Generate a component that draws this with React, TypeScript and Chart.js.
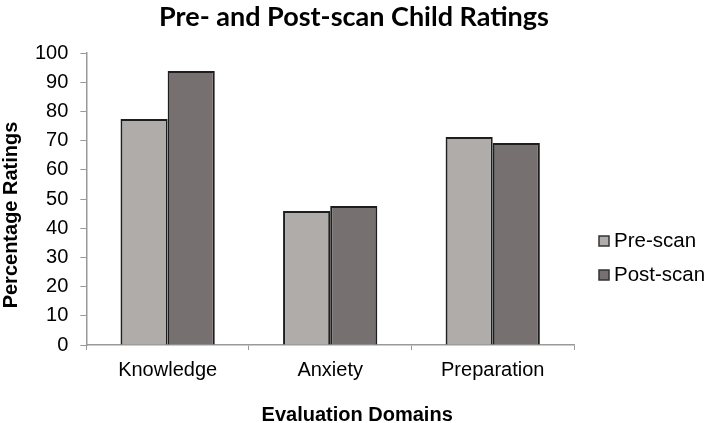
import React, { useEffect, useRef } from "react";
import { Chart, registerables } from "chart.js";

Chart.register(...registerables);

const categories = ["Knowledge", "Anxiety", "Preparation"];
const preScan = [77.4, 45.9, 71.2];
const postScan = [93.8, 47.6, 69.2];
const seriesLabels = ["Pre-scan", "Post-scan"];
const yTitle = "Percentage Ratings";
const xTitle = "Evaluation Domains";
const chartTitle = "Pre- and Post-scan Child Ratings";

const textPlugin = {
  id: "extraText",
  afterDraw(chart: any) {
    const ctx = chart.ctx;
    const a = chart.chartArea;
    ctx.save();
    ctx.fillStyle = "#000";
    // chart title
    ctx.font = "bold 27px 'Lato'";
    ctx.textAlign = "center";
    ctx.textBaseline = "middle";
    ctx.fillText(chartTitle, chart.width / 2, 17);
    // x axis title
    ctx.font = "bold 20px 'Liberation Sans'";
    ctx.textAlign = "center";
    ctx.textBaseline = "alphabetic";
    ctx.fillText(xTitle, (a.left + a.right) / 2 + 27, 421);
    // y axis title
    ctx.save();
    ctx.translate(17, (a.top + a.bottom) / 2 + 16);
    ctx.rotate(-Math.PI / 2);
    ctx.textBaseline = "alphabetic";
    ctx.fillText(yTitle, 0, 0);
    ctx.restore();
    // legend
    const ds = chart.data.datasets;
    ctx.font = "20.5px 'Liberation Sans'";
    ctx.textAlign = "left";
    ctx.textBaseline = "middle";
    ds.forEach((d: any, i: number) => {
      const cy = 241 + i * 34;
      const bx = a.right + 25;
      ctx.fillStyle = d.backgroundColor;
      ctx.fillRect(bx, cy - 5, 10, 10);
      ctx.strokeStyle = "#333";
      ctx.lineWidth = 1.5;
      ctx.strokeRect(bx, cy - 5, 10, 10);
      ctx.fillStyle = "#000";
      ctx.fillText(d.label, bx + 15, cy);
    });
    ctx.restore();
  },
};

export default function App() {
  const ref = useRef<HTMLCanvasElement | null>(null);
  useEffect(() => {
    document.body.style.margin = "0";
    const canvas = ref.current;
    if (!canvas) return;
    const chart = new Chart(canvas, {
      type: "bar",
      data: {
        labels: categories,
        datasets: [
          {
            label: seriesLabels[0],
            data: preScan,
            backgroundColor: "#b0acaa",
            borderColor: "#1e1e1e",
            borderWidth: 2,
            categoryPercentage: 0.58,
            barPercentage: 1.0,
          },
          {
            label: seriesLabels[1],
            data: postScan,
            backgroundColor: "#767170",
            borderColor: "#1e1e1e",
            borderWidth: 2,
            categoryPercentage: 0.58,
            barPercentage: 1.0,
          },
        ],
      },
      options: {
        animation: false,
        responsive: false,
        maintainAspectRatio: false,
        layout: { padding: { top: 53, left: 23, right: 134, bottom: 33 } },
        plugins: {
          title: { display: false },
          legend: { display: false },
          tooltip: { enabled: false },
        },
        scales: {
          x: {
            grid: {
              display: true,
              drawOnChartArea: false,
              drawTicks: true,
              tickLength: 5,
              offset: true,
              color: "#999",
            },
            border: { display: true, color: "#999", width: 1.5 },
            ticks: {
              color: "#000",
              font: { family: "Liberation Sans", size: 20 },
              padding: 8,
            },
          },
          y: {
            min: 0,
            max: 100,
            grid: {
              display: true,
              drawOnChartArea: false,
              drawTicks: true,
              tickLength: 6,
              color: "#999",
            },
            border: { display: true, color: "#999", width: 1.5 },
            ticks: {
              stepSize: 10,
              color: "#000",
              font: { family: "Liberation Sans", size: 20 },
              padding: 12,
            },
          },
        },
      },
      plugins: [textPlugin],
    } as any);
    return () => chart.destroy();
  }, []);
  return (
    <div style={{ width: 708, height: 423, background: "#fff" }}>
      <canvas ref={ref} width={708} height={423} style={{ display: "block" }} />
    </div>
  );
}
